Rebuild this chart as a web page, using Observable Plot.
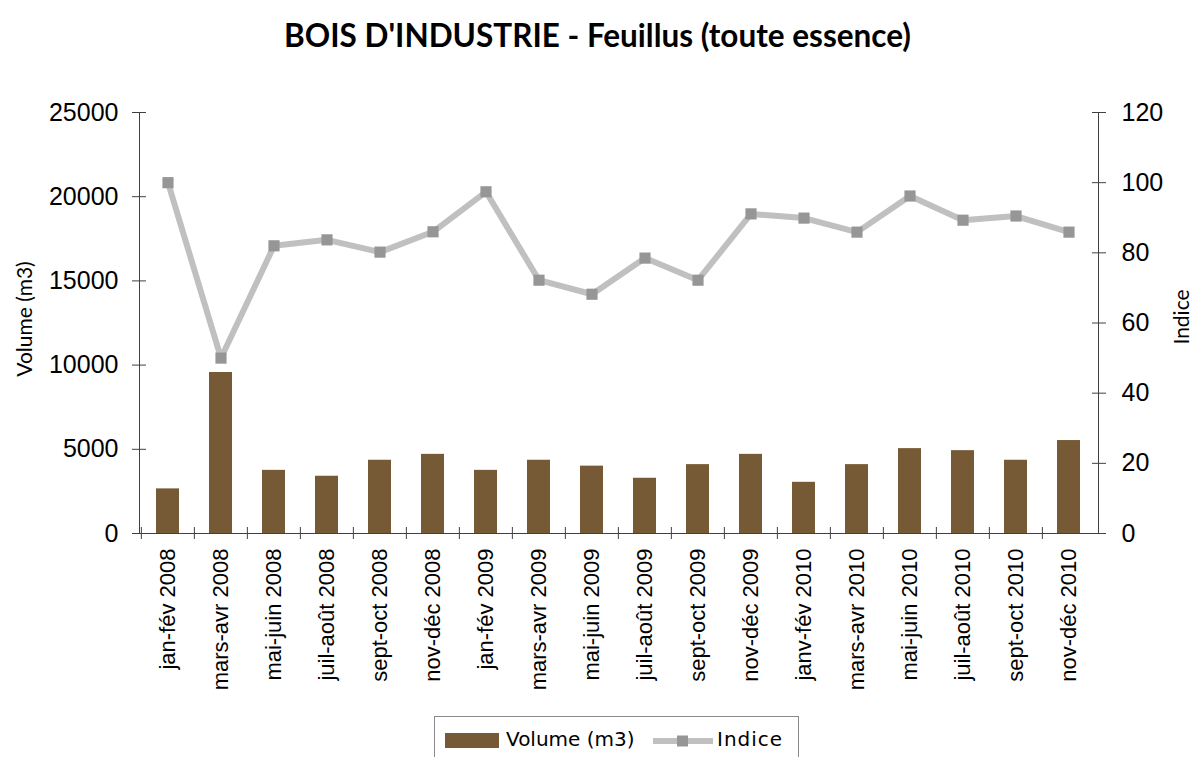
<!DOCTYPE html>
<html><head><meta charset="utf-8">
<script src="https://cdn.jsdelivr.net/npm/d3@7"></script>
<script src="https://cdn.jsdelivr.net/npm/@observablehq/plot@0.6"></script>
<style>
html,body{margin:0;padding:0;background:#fff;}
body{width:1195px;height:757px;overflow:hidden;position:relative;font-family:"Liberation Sans",Arial,sans-serif;}
#title{position:absolute;top:16px;left:0;width:1195px;text-align:center;font-family:"Lato","DejaVu Sans",sans-serif;font-weight:bold;font-size:26px;color:#000;white-space:nowrap;}
#chart{position:absolute;top:70px;left:0;}
#legend{position:absolute;left:434px;top:716px;width:365px;height:60px;border:1px solid #8a8a8a;box-sizing:border-box;font-family:"DejaVu Sans",sans-serif;font-size:20px;color:#000;}
#legend .sw{position:absolute;left:10px;top:16px;width:54px;height:15px;background:#765a35;}
#legend .t1{position:absolute;left:71px;top:10px;}
#legend svg{position:absolute;left:218px;top:17px;}
#legend .t2{position:absolute;left:282px;top:10px;letter-spacing:1px;}
</style></head>
<body>
<div id="title">BOIS D'INDUSTRIE - Feuillus (toute essence)</div>
<div id="chart"></div>
<div id="legend"><div class="sw"></div><span class="t1">Volume (m3)</span><svg width="60" height="14"><line x1="1" y1="7" x2="59" y2="7" stroke="#c0c0c0" stroke-width="6" stroke-linecap="round"/><rect x="24" y="1.5" width="11" height="11" fill="#969696"/></svg><span class="t2">Indice</span></div>
<script>
const periods = ["jan-fév 2008","mars-avr 2008","mai-juin 2008","juil-août 2008","sept-oct 2008","nov-déc 2008",
  "jan-fév 2009","mars-avr 2009","mai-juin 2009","juil-août 2009","sept-oct 2009","nov-déc 2009",
  "janv-fév 2010","mars-avr 2010","mai-juin 2010","juil-août 2010","sept-oct 2010","nov-déc 2010"];
const volume = [2650, 9560, 3750, 3400, 4350, 4700, 3750, 4350, 4000, 3280, 4090, 4700, 3040, 4090, 5040, 4920, 4350, 5520];
const indice = [100, 50, 82, 83.7, 80.2, 86, 97.4, 72.2, 68.2, 78.5, 72.2, 91.1, 89.9, 85.9, 96.2, 89.3, 90.5, 85.9];
const volumeTicks = [0, 5000, 10000, 15000, 20000, 25000];
const indiceTicks = [0, 20, 40, 60, 80, 100, 120];
const volumeMax = 25000, indiceMax = 120;

const k = volumeMax / indiceMax;
const data = periods.map((p, i) => ({period: p, volume: volume[i], indice: indice[i]}));

// fit title width
(function(){
  const el = document.getElementById("title");
  const c = document.createElement("canvas").getContext("2d");
  c.font = "bold 100px Lato";
  const w = c.measureText(el.textContent).width;
  el.style.fontSize = (627 / w * 100).toFixed(2) + "px";
})();

const W = 1195, H = 640, mL = 139, mR = 97, mT = 42, mB = 177;
const step = (W - mL - mR) / periods.length;
const axisColor = "#404040";

const chart = Plot.plot({
  width: W, height: H,
  marginLeft: mL, marginRight: mR, marginTop: mT, marginBottom: mB,
  style: {fontFamily: "'Liberation Sans', Arial, sans-serif", background: "#fff", color: "#000"},
  x: {type: "band", domain: periods, paddingInner: 0.56, paddingOuter: 0.28, label: null},
  y: {domain: [0, volumeMax], label: null},
  marks: [
    Plot.barY(data, {x: "period", y: "volume", fill: "#765a35"}),
    Plot.lineY(data, {x: "period", y: d => d.indice * k, stroke: "#c0c0c0", strokeWidth: 6, strokeLinejoin: "round"}),
    Plot.dot(data, {x: "period", y: d => d.indice * k, symbol: "square", r: 6.3, fill: "#969696", stroke: "none"}),
    Plot.ruleY([0], {stroke: axisColor}),
    Plot.frame({anchor: "left", stroke: axisColor}),
    Plot.frame({anchor: "right", stroke: axisColor}),
    Plot.ruleX(periods, {x: d => d, y1: 0, y2: 0, dx: -step / 2, insetTop: -6, insetBottom: -6, stroke: axisColor}),
    Plot.axisX({tickSize: 0, tickPadding: 15, tickRotate: -90, fontSize: 22, fill: "#000", label: null}),
    Plot.axisY(volumeTicks, {anchor: "left", tickSize: 14, dx: 7, tickPadding: 14, fontSize: 25,
      tickFormat: d3.format("d"), stroke: axisColor, fill: "#000", label: null}),
    Plot.axisY(indiceTicks.map(v => v * k), {anchor: "right", tickSize: 14, dx: -7, tickPadding: 16, fontSize: 25,
      tickFormat: d => String(Math.round(d / k)), stroke: axisColor, fill: "#000", label: null}),
    Plot.text(["Volume (m3)"], {frameAnchor: "left", textAnchor: "middle", dx: -114, dy: -4, rotate: -90, fontSize: 21,
      fontFamily: "Lato, sans-serif", fill: "#000"}),
    Plot.text(["Indice"], {frameAnchor: "right", textAnchor: "middle", dx: 84, dy: -6, rotate: -90, fontSize: 21,
      fontFamily: "Lato, sans-serif", fill: "#000"})
  ]
});
document.getElementById("chart").appendChild(chart);
</script>
</body></html>
